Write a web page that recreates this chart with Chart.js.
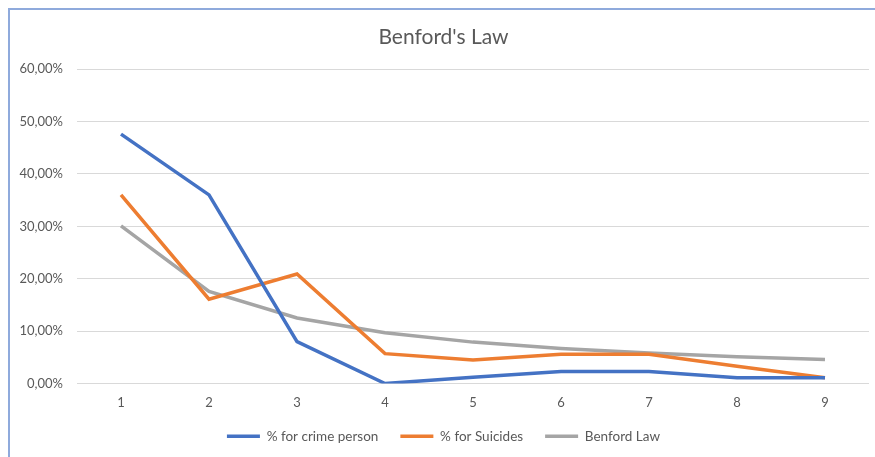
<!DOCTYPE html>
<html>
<head>
<meta charset="utf-8">
<script src="https://cdn.jsdelivr.net/npm/chart.js@4.4.0/dist/chart.umd.min.js"></script>
<style>
  html, body { margin: 0; padding: 0; background: #fff; }
  #wrap { position: relative; width: 875px; height: 457px; overflow: hidden; }
  #frame { position: absolute; left: 8px; top: 8px; width: 900px; height: 500px;
           border-top: 2px solid #8faadc; border-left: 2px solid #8faadc; }
  canvas { position: absolute; left: 0; top: 0; }
</style>
</head>
<body>
<div id="wrap">
  <div id="frame"></div>
  <canvas id="benford" width="875" height="457"></canvas>
</div>
<script>
// first digits 1..9
const digits = ['1', '2', '3', '4', '5', '6', '7', '8', '9'];

// percent values
const crimePerson = [47.6, 36.0, 8.0, 0.0, 1.2, 2.3, 2.3, 1.1, 1.1];
const suicides = [36.0, 16.1, 20.9, 5.7, 4.5, 5.6, 5.6, 3.3, 1.1];
const benfordLaw = [30.1, 17.6, 12.5, 9.7, 7.9, 6.7, 5.8, 5.1, 4.6];

const fontFamily = 'Lato, "Open Sans", sans-serif';
const textColor = '#595959';

function pct(v) {
    return v.toFixed(2).replace('.', ',') + '%';
}

const ctx = document.getElementById('benford').getContext('2d');

new Chart(ctx, {
    type: 'line',
    data: {
        labels: digits,
        datasets: [
            { label: '% for crime person', data: crimePerson, borderColor: '#4472c4', backgroundColor: '#4472c4', borderWidth: 3.5 },
            { label: '% for Suicides', data: suicides, borderColor: '#ed7d31', backgroundColor: '#ed7d31', borderWidth: 3.5 },
            { label: 'Benford Law', data: benfordLaw, borderColor: '#a5a5a5', backgroundColor: '#a5a5a5', borderWidth: 3.5 }
        ]
    },
    options: {
        responsive: false,
        animation: false,
        layout: {
            // left padding nudges the title right, like Excel centres it
            padding: { top: 10, left: 18, right: 6, bottom: 4 }
        },
        elements: {
            line: { tension: 0, fill: false },
            point: { radius: 0, hoverRadius: 0 }
        },
        plugins: {
            title: {
                display: true,
                text: "Benford's Law",
                color: textColor,
                font: { family: fontFamily, size: 21, weight: 'normal' },
                padding: { top: 15, bottom: 19 }
            },
            legend: {
                position: 'bottom',
                labels: {
                    color: textColor,
                    font: { family: fontFamily, size: 13.5 },
                    usePointStyle: true,
                    pointStyle: 'line',
                    pointStyleWidth: 33,
                    padding: 22
                }
            },
            tooltip: { enabled: false }
        },
        scales: {
            x: {
                offset: true,
                afterFit: (scale) => { scale.height = 24; },
                grid: { display: false, drawTicks: false },
                border: { display: false },
                ticks: {
                    color: textColor,
                    font: { family: fontFamily, size: 13 },
                    padding: 12
                }
            },
            y: {
                min: 0,
                max: 60,
                afterFit: (scale) => { scale.width = 59; },
                grid: { color: '#d9d9d9', lineWidth: 1, drawTicks: false },
                border: { display: false },
                ticks: {
                    stepSize: 10,
                    color: textColor,
                    font: { family: fontFamily, size: 13 },
                    padding: 14,
                    callback: (v) => pct(v)
                }
            }
        }
    }
});
</script>
</body>
</html>
